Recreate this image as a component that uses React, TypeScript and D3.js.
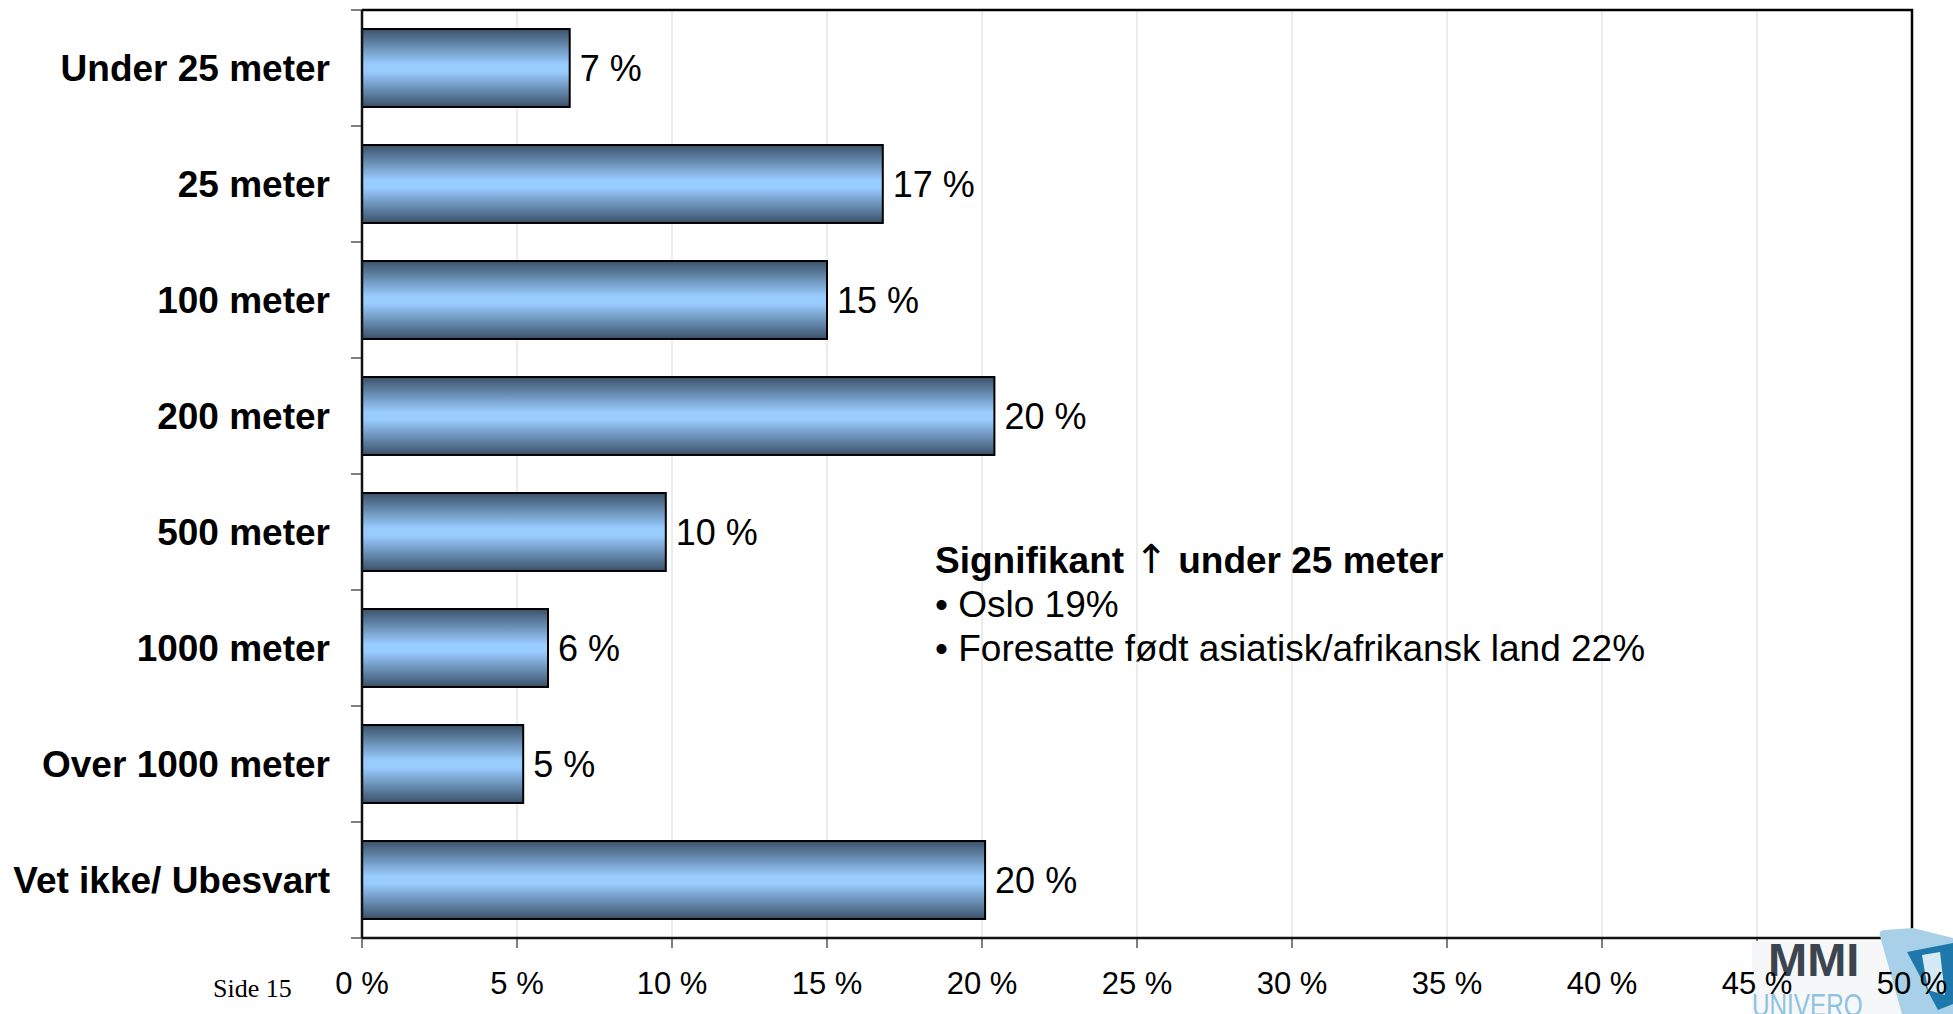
// Horizontal bar chart: distance categories with percentage shares
import React, { useEffect, useRef } from 'react';
import * as d3 from 'd3';

const categories = [
  'Under 25 meter',
  '25 meter',
  '100 meter',
  '200 meter',
  '500 meter',
  '1000 meter',
  'Over 1000 meter',
  'Vet ikke/ Ubesvart',
];
const values = [6.7, 16.8, 15.0, 20.4, 9.8, 6.0, 5.2, 20.1];
const xTicks = [0, 5, 10, 15, 20, 25, 30, 35, 40, 45, 50];

const noteTitle = ['Signifikant ', '\u2191', ' under 25 meter'];
const noteLines = ['\u2022 Oslo 19%', '\u2022 Foresatte f\u00f8dt asiatisk/afrikansk land 22%'];

const App: React.FC = () => {
  const ref = useRef<SVGSVGElement>(null);

  useEffect(() => {
    if (!ref.current) return;
    const svg = d3.select(ref.current);
    svg.selectAll('*').remove();

    const width = 1953;
    const height = 1014;
    const margin = { top: 10, right: 41, bottom: 76, left: 362 };
    const plotWidth = width - margin.left - margin.right;
    const plotHeight = height - margin.top - margin.bottom;
    const font = '"Liberation Sans", Arial, sans-serif';

    svg.attr('width', width).attr('height', height);

    const defs = svg.append('defs');
    const grad = defs.append('linearGradient')
      .attr('id', 'barGrad')
      .attr('x1', 0).attr('y1', 0).attr('x2', 0).attr('y2', 1);
    grad.append('stop').attr('offset', '0%').attr('stop-color', '#3a516a');
    grad.append('stop').attr('offset', '45%').attr('stop-color', '#99ccff');
    grad.append('stop').attr('offset', '55%').attr('stop-color', '#99ccff');
    grad.append('stop').attr('offset', '100%').attr('stop-color', '#3a516a');

    const g = svg.append('g')
      .attr('transform', `translate(${margin.left},${margin.top})`);

    const x = d3.scaleLinear().domain([0, 50]).range([0, plotWidth]);
    const y = d3.scaleBand<string>()
      .domain(categories)
      .range([0, plotHeight])
      .paddingInner(0.328)
      .paddingOuter(0.164);

    // gridlines
    g.selectAll('line.grid')
      .data(xTicks.filter(t => t > 0 && t < 50))
      .join('line')
      .attr('class', 'grid')
      .attr('x1', d => x(d)).attr('x2', d => x(d))
      .attr('y1', 0).attr('y2', plotHeight)
      .attr('stroke', '#d9d9d9')
      .attr('stroke-width', 1);

    // plot frame (top + right)
    g.append('path')
      .attr('d', `M0,0H${plotWidth}V${plotHeight}`)
      .attr('fill', 'none')
      .attr('stroke', '#000')
      .attr('stroke-width', 2.5);

    // bars
    g.selectAll('rect.bar')
      .data(values)
      .join('rect')
      .attr('class', 'bar')
      .attr('x', 0)
      .attr('y', (_, i) => y(categories[i]) ?? 0)
      .attr('width', d => x(d))
      .attr('height', y.bandwidth())
      .attr('fill', 'url(#barGrad)')
      .attr('stroke', '#000')
      .attr('stroke-width', 2);

    // value labels
    g.selectAll('text.val')
      .data(values)
      .join('text')
      .attr('class', 'val')
      .attr('x', d => x(d) + 10)
      .attr('y', (_, i) => (y(categories[i]) ?? 0) + y.bandwidth() / 2 + 13)
      .style('font-family', font)
      .style('font-size', '36px')
      .attr('fill', '#000')
      .text(d => `${Math.round(d)} %`);

    // y axis: ticks at band boundaries, labels
    const step = y.step();
    g.selectAll('line.ytick')
      .data(d3.range(categories.length + 1))
      .join('line')
      .attr('class', 'ytick')
      .attr('x1', -11).attr('x2', 0)
      .attr('y1', i => i * step).attr('y2', i => i * step)
      .attr('stroke', '#555')
      .attr('stroke-width', 1.5);

    g.selectAll('text.cat')
      .data(categories)
      .join('text')
      .attr('class', 'cat')
      .attr('x', -32)
      .attr('y', d => (y(d) ?? 0) + y.bandwidth() / 2 + 13)
      .attr('text-anchor', 'end')
      .style('font-family', font)
      .style('font-size', '37px')
      .style('font-weight', 'bold')
      .attr('fill', '#000')
      .text(d => d);

    // x axis ticks
    g.selectAll('line.xtick')
      .data(xTicks)
      .join('line')
      .attr('class', 'xtick')
      .attr('x1', d => x(d)).attr('x2', d => x(d))
      .attr('y1', plotHeight).attr('y2', plotHeight + 10)
      .attr('stroke', '#555')
      .attr('stroke-width', 1.5);

    g.append('line')
      .attr('x1', 0).attr('x2', 0)
      .attr('y1', 0).attr('y2', plotHeight)
      .attr('stroke', '#111')
      .attr('stroke-width', 2.5);
    g.append('line')
      .attr('x1', 0).attr('x2', plotWidth)
      .attr('y1', plotHeight).attr('y2', plotHeight)
      .attr('stroke', '#111')
      .attr('stroke-width', 2.5);

    // logo backdrop + logo
    const logo = svg.append('g');
    logo.append('rect')
      .attr('x', 1752).attr('y', 941).attr('width', 201).attr('height', 73)
      .attr('fill', '#f6f7f8');
    logo.append('path')
      .attr('d', 'M1880,936 Q1878,931 1884,930 L1913,928 L1953,938 L1953,1014 L1902,1014 Z')
      .attr('fill', '#a8d0e8');
    logo.append('path')
      .attr('d', 'M1907,952 L1953,943 L1953,1004 L1938,1010 Z')
      .attr('fill', '#1f78ab');
    logo.append('path')
      .attr('d', 'M1922,955 L1940,952 L1945,995 L1928,990 Z')
      .attr('fill', '#d6eaf5');
    logo.append('text')
      .attr('x', 1768).attr('y', 976)
      .style('font-family', font)
      .style('font-size', '47px')
      .style('font-weight', 'bold')
      .attr('fill', '#3b4550')
      .text('MMI');
    logo.append('text')
      .attr('transform', 'translate(1752,1016) scale(0.76,1)')
      .style('font-family', font)
      .style('font-size', '32px')
      .attr('fill', '#8ec3e0')
      .text('UNIVERO');

    // x tick labels, drawn over the logo as in the source
    const xl = svg.append('g')
      .attr('transform', `translate(${margin.left},0)`);
    xl.selectAll('text.xlab')
      .data(xTicks)
      .join('text')
      .attr('class', 'xlab')
      .attr('x', d => x(d))
      .attr('y', 994)
      .attr('text-anchor', 'middle')
      .style('font-family', font)
      .style('font-size', '31px')
      .attr('fill', '#000')
      .text(d => `${d} %`);

    // page number
    svg.append('text')
      .attr('x', 213).attr('y', 997)
      .style('font-family', '"Liberation Serif", "Times New Roman", serif')
      .style('font-size', '26px')
      .attr('fill', '#000')
      .text('Side 15');

    // annotation
    const note = svg.append('g').attr('transform', 'translate(935,0)');
    const title = note.append('text')
      .attr('x', 0).attr('y', 573)
      .style('font-family', font)
      .style('font-size', '37px')
      .style('font-weight', 'bold')
      .attr('fill', '#000');
    title.selectAll('tspan')
      .data(noteTitle)
      .join('tspan')
      .style('font-family', (_, i) => (i === 1 ? '"DejaVu Sans", sans-serif' : font))
      .style('font-weight', (_, i) => (i === 1 ? 'normal' : 'bold'))
      .style('font-size', (_, i) => (i === 1 ? '40px' : '37px'))
      .text(d => d);
    note.selectAll('text.line')
      .data(noteLines)
      .join('text')
      .attr('class', 'line')
      .attr('x', 0)
      .attr('y', (_, i) => 617 + i * 44)
      .style('font-family', font)
      .style('font-size', '37px')
      .attr('fill', '#000')
      .text(d => d);
  }, []);

  return (
    <div style={{ position: 'absolute', left: 0, top: 0, background: '#fff' }}>
      <svg ref={ref} style={{ display: 'block' }}></svg>
    </div>
  );
};

export default App;
